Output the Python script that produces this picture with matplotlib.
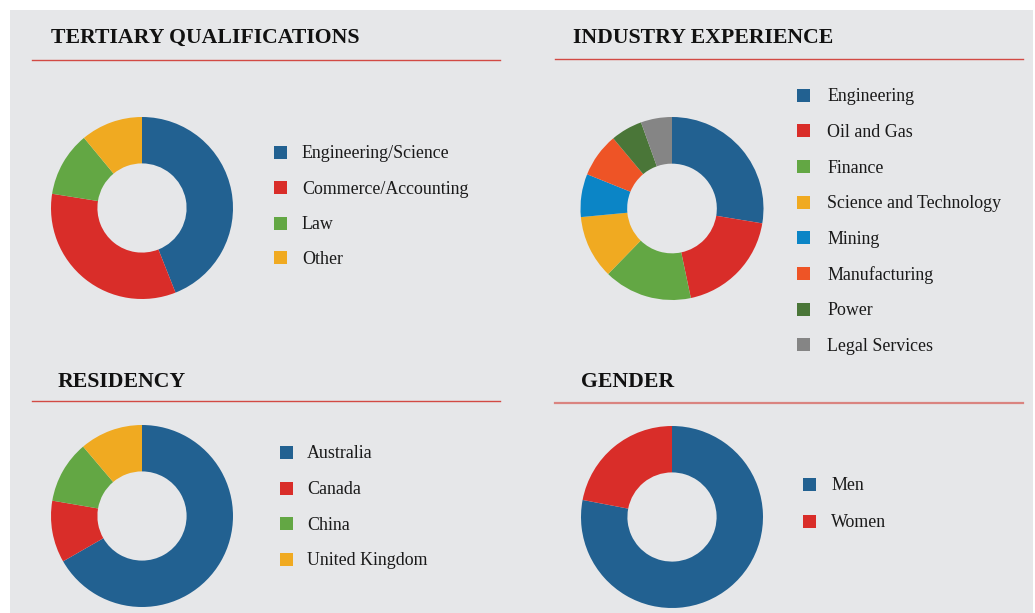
import matplotlib.pyplot as plt
from matplotlib.patches import Rectangle
from matplotlib.lines import Line2D

# Chart data
qual_labels = ['Engineering/Science', 'Commerce/Accounting', 'Law', 'Other']
qual_values = [44, 33.5, 11.5, 11]

ind_labels = ['Engineering', 'Oil and Gas', 'Finance', 'Science and Technology',
              'Mining', 'Manufacturing', 'Power', 'Legal Services']
ind_values = [27.6, 19.1, 15.6, 11.2, 7.6, 7.8, 5.6, 5.5]

res_labels = ['Australia', 'Canada', 'China', 'United Kingdom']
res_values = [66.7, 11, 11.1, 11.2]

gen_labels = ['Men', 'Women']
gen_values = [78, 22]

BLUE = '#226191'
RED = '#d92d29'
GREEN = '#63a744'
YELLOW = '#f0aa21'
qual_colors = [BLUE, RED, GREEN, YELLOW]
ind_colors = [BLUE, RED, GREEN, YELLOW, '#0b85c6', '#ee5426', '#4a7638', '#858585']
res_colors = [BLUE, RED, GREEN, YELLOW]
gen_colors = [BLUE, RED]

W, H = 1035, 613
BG = '#e6e7e9'

fig = plt.figure(figsize=(W / 100, H / 100), dpi=100, facecolor='white')

def fx(x):
    return x / W

def fy(y):
    return 1 - y / H

# gray panel (behind the pie axes)
fig.patches.append(Rectangle((fx(10), 0), fx(1033) - fx(10), fy(10), transform=fig.transFigure,
                             facecolor=BG, edgecolor='none', zorder=-5))

serif = 'Liberation Serif'

def panel(title, tx, ty, line_x0, line_x1, line_y, labels, values, colors,
          cx, cy, r, sq_x, txt_x, ys, lw=1.0, lcol='#d24a44'):
    # ty is the baseline of the title
    fig.text(fx(tx), fy(ty), title, fontsize=15.7, fontweight='bold', family=serif,
             color='#111111', va='baseline', ha='left')
    fig.add_artist(Line2D([fx(line_x0), fx(line_x1)], [fy(line_y), fy(line_y)],
                          transform=fig.transFigure, color=lcol, lw=lw))
    ax = fig.add_axes([fx(cx - r), fy(cy + r), (2 * r) / W, (2 * r) / H])
    ax.set_zorder(2)
    ax.patch.set_visible(False)
    ax.pie(values, colors=colors, startangle=90, counterclock=False, radius=1,
           wedgeprops=dict(width=0.51, edgecolor='none'))
    ax.set_xlim(-1, 1)
    ax.set_ylim(-1, 1)
    ax.set_aspect('equal')
    ax.axis('off')
    for lab, col, y in zip(labels, colors, ys):
        fig.patches.append(Rectangle((fx(sq_x), fy(y + 6.5)), 13 / W, 13 / H,
                                     transform=fig.transFigure, facecolor=col,
                                     edgecolor='none'))
        fig.text(fx(txt_x), fy(y + 6.2), lab, fontsize=12.9, family=serif, color='#1a1a1a',
                 va='baseline', ha='left')

panel('TERTIARY QUALIFICATIONS', 51, 43.3, 32, 500, 59.5, qual_labels, qual_values,
      qual_colors, 142, 208, 91, 274, 302, [152, 187.5, 223, 258])

panel('INDUSTRY EXPERIENCE', 573, 43.3, 555, 1023, 58.5, ind_labels, ind_values,
      ind_colors, 672, 208.5, 91.5, 797, 827,
      [95 + 35.7 * i for i in range(8)])

panel('RESIDENCY', 58, 386.7, 32, 500, 401.3, res_labels, res_values,
      res_colors, 142, 516, 91, 280, 307, [452, 488, 523.5, 559])

panel('GENDER', 581, 386.7, 555, 1023, 402.7, gen_labels, gen_values,
      gen_colors, 672, 517, 91, 803, 831, [484, 521], lw=1.6, lcol='#da8480')

fig.savefig('out.png', dpi=100, facecolor='white')
